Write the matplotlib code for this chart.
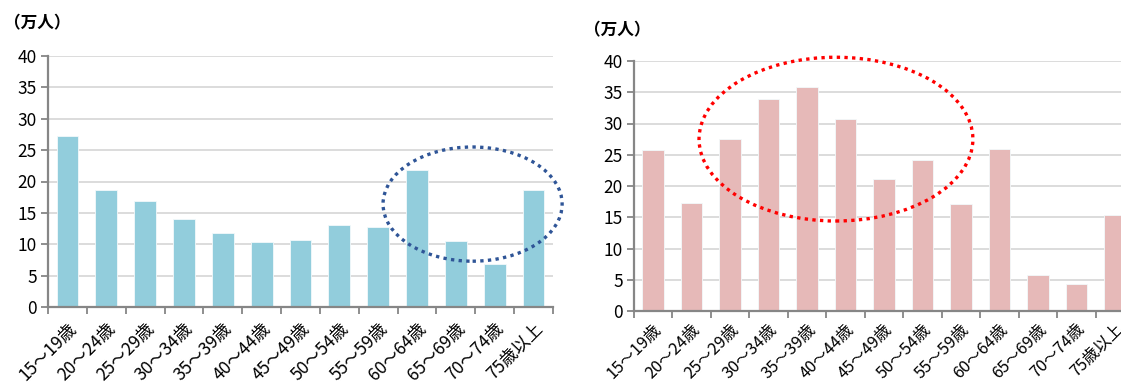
import numpy as np
import matplotlib.pyplot as plt
from matplotlib.patches import Ellipse

plt.rcParams['font.family'] = ['Noto Sans CJK JP', 'DejaVu Sans']

ages = ["15～19歳", "20～24歳", "25～29歳", "30～34歳", "35～39歳", "40～44歳",
        "45～49歳", "50～54歳", "55～59歳", "60～64歳", "65～69歳", "70～74歳", "75歳以上"]
left_vals = [27.3, 18.6, 16.9, 14.1, 11.8, 10.3, 10.7, 13.0, 12.8, 21.9, 10.5, 6.8, 18.6]
right_vals = [25.8, 17.3, 27.5, 34.0, 35.8, 30.8, 21.2, 24.2, 17.1, 26.0, 5.7, 4.4, 15.4]
unit_label = "（万人）"

W, H = 1121, 385
fig = plt.figure(figsize=(W / 100, H / 100), dpi=100)

ax1 = fig.add_axes([48 / W, (H - 307) / H, 505 / W, 251 / H])
ax2 = fig.add_axes([634 / W, (H - 311) / H, 500 / W, 250 / H])


def style_axis(ax, vals, color, lab_size, lab_pad):
    x = np.arange(len(vals))
    ax.bar(x, vals, width=0.56, color=color, edgecolor='#f2f9fb', linewidth=0.6, zorder=3)
    ax.set_xlim(-0.5, len(vals) - 0.5)
    ax.set_ylim(0, 40)
    ax.set_yticks(np.arange(0, 41, 5))
    ax.yaxis.grid(True, color='#d9d9d9', linewidth=1.3, zorder=0)
    ax.set_axisbelow(True)
    for s in ['top', 'right']:
        ax.spines[s].set_visible(False)
    for s in ['left', 'bottom']:
        ax.spines[s].set_color('#868686')
        ax.spines[s].set_linewidth(1.6)
        ax.spines[s].set_zorder(4)
    ax.set_xticks(x)
    ax.set_xticklabels(ages, rotation=45, ha='right', rotation_mode='anchor', fontsize=lab_size)
    ax.set_xticks(np.arange(-0.5, len(vals), 1.0), minor=True)
    ax.tick_params(axis='x', which='major', length=0, pad=lab_pad)
    ax.tick_params(axis='x', which='minor', length=5, width=1.3, color='#868686', direction='out')
    ax.tick_params(axis='y', length=5, width=1.3, color='#868686', labelsize=12.5, pad=3)


style_axis(ax1, left_vals, '#92cddc', 12.5, 9)
style_axis(ax2, right_vals, '#e6b9b8', 11.8, 7)

# dotted ellipses highlighting regions
e1 = Ellipse((10.43, 16.4), 4.61, 18.2, fill=False, edgecolor='#2f5597',
             linewidth=2.4, linestyle=(0, (1, 1.3)), clip_on=False, zorder=5)
ax1.add_patch(e1)
e2 = Ellipse((4.75, 27.5), 7.12, 26.2, fill=False, edgecolor='#ff0000',
             linewidth=2.4, linestyle=(0, (1, 1.3)), clip_on=False, zorder=5)
ax2.add_patch(e2)

fig.text(4 / W, 1 - 23 / H, unit_label, fontsize=12, fontweight='bold', va='center', ha='left')
fig.text(584 / W, 1 - 30 / H, unit_label, fontsize=12, fontweight='bold', va='center', ha='left')

fig.savefig('out.png', dpi=100)
